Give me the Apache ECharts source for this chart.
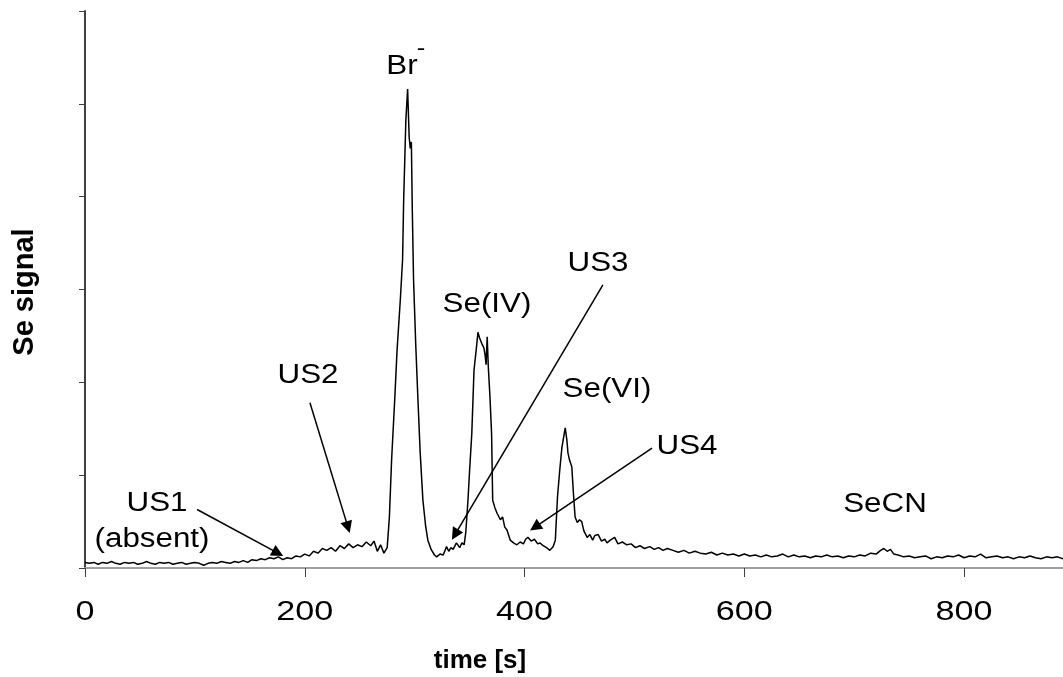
<!DOCTYPE html>
<html>
<head>
<meta charset="utf-8">
<title>Se signal</title>
<script src="https://cdn.jsdelivr.net/npm/echarts@6/dist/echarts.min.js"></script>
<style>
    html, body { margin: 0; padding: 0; background: #fff; }
    #chart { width: 1063px; height: 677px; }
</style>
</head>
<body>
<div id="chart"></div>
<script>
// 时间轴 (s)
let time = [
    0, 4, 8, 12, 16, 20, 24, 28, 32, 36, 40, 44, 48, 52, 56, 60, 64, 68, 72, 76,
    80, 84, 88, 92, 96, 100, 104, 108, 112, 116, 120, 124, 128, 132, 136, 140, 144, 148, 152, 156,
    160, 164, 168, 172, 176, 180, 184, 188, 192, 196, 200, 204, 208, 212, 216, 220, 224, 228, 232, 236,
    240, 244, 248, 252, 256, 260, 263, 266, 269, 272, 275, 277, 279, 282, 284, 287, 289, 290, 292, 293.6,
    295, 296, 297, 297.8, 299, 301, 303, 305, 307.5, 310, 312, 315, 318, 320, 323, 326, 329, 331, 333, 335,
    338, 341, 343, 345, 346.5, 348.5, 350, 352, 354, 356, 357.6, 359, 361, 363, 364, 365, 366, 367, 368.5, 370,
    371, 373, 375, 378, 380, 382, 384, 387, 390, 393, 396, 399, 401, 403, 406, 409, 412, 414, 417, 420,
    423, 426, 428, 430, 432, 434, 437, 438.5, 439.5, 441, 443, 444.5, 446, 448, 450, 452, 454, 455, 457, 459.5,
    462, 464, 467, 470, 473, 475, 478, 482, 485, 489, 493, 497, 501, 505, 509, 514, 518, 522, 526, 530,
    535, 540, 545, 550, 555, 560, 565, 570, 575, 580, 585, 590, 595, 600, 605, 610, 615, 620, 625, 630,
    635, 640, 645, 650, 655, 660, 665, 670, 675, 680, 685, 690, 695, 700, 705, 710, 715, 720, 724, 727,
    730, 733, 736, 740, 745, 750, 755, 760, 765, 770, 775, 780, 785, 790, 795, 800, 805, 810, 815, 820,
    825, 830, 835, 840, 845, 850, 855, 860, 865, 870, 875, 880, 885, 890
];
// Se 信号
let signal = [
    0.06, 0.05, 0.06, 0.04, 0.06, 0.05, 0.07, 0.05, 0.04, 0.06, 0.05, 0.06, 0.04, 0.05, 0.07, 0.05, 0.04, 0.06, 0.05, 0.06,
    0.04, 0.05, 0.06, 0.04, 0.05, 0.06, 0.05, 0.03, 0.05, 0.06, 0.05, 0.07, 0.06, 0.05, 0.07, 0.06, 0.08, 0.06, 0.09, 0.08,
    0.10, 0.09, 0.11, 0.10, 0.12, 0.09, 0.11, 0.10, 0.13, 0.12, 0.15, 0.13, 0.18, 0.16, 0.21, 0.19, 0.22, 0.18, 0.24, 0.21,
    0.26, 0.22, 0.25, 0.23, 0.28, 0.24, 0.29, 0.18, 0.25, 0.16, 0.22, 0.55, 1.16, 1.85, 2.35, 2.90, 3.32, 3.97, 4.83, 5.16,
    4.64, 4.52, 4.59, 3.89, 3.10, 2.40, 1.81, 1.25, 0.73, 0.45, 0.30, 0.20, 0.14, 0.12, 0.15, 0.14, 0.23, 0.18, 0.22, 0.20,
    0.27, 0.22, 0.27, 0.25, 0.38, 0.73, 1.05, 1.45, 2.13, 2.35, 2.54, 2.48, 2.42, 2.37, 2.30, 2.19, 2.49, 2.17, 1.85, 1.45,
    0.73, 0.65, 0.59, 0.52, 0.55, 0.44, 0.41, 0.30, 0.27, 0.25, 0.28, 0.26, 0.31, 0.33, 0.29, 0.31, 0.26, 0.27, 0.24, 0.22,
    0.19, 0.23, 0.30, 0.77, 1.05, 1.30, 1.51, 1.38, 1.24, 1.16, 1.09, 0.80, 0.55, 0.49, 0.52, 0.50, 0.40, 0.38, 0.33, 0.36,
    0.30, 0.35, 0.36, 0.29, 0.31, 0.27, 0.30, 0.33, 0.26, 0.28, 0.25, 0.26, 0.22, 0.24, 0.21, 0.23, 0.20, 0.22, 0.19, 0.21,
    0.19, 0.17, 0.19, 0.16, 0.18, 0.16, 0.15, 0.17, 0.14, 0.16, 0.14, 0.15, 0.13, 0.15, 0.13, 0.14, 0.12, 0.14, 0.12, 0.13,
    0.15, 0.12, 0.14, 0.12, 0.13, 0.11, 0.13, 0.12, 0.14, 0.12, 0.13, 0.11, 0.13, 0.12, 0.14, 0.13, 0.16, 0.15, 0.19, 0.21,
    0.18, 0.20, 0.15, 0.14, 0.12, 0.13, 0.11, 0.12, 0.13, 0.10, 0.12, 0.11, 0.13, 0.12, 0.14, 0.11, 0.13, 0.12, 0.15, 0.11,
    0.12, 0.13, 0.11, 0.12, 0.10, 0.12, 0.11, 0.13, 0.11, 0.10, 0.12, 0.11, 0.12, 0.10
];
// x 轴刻度标签
let xTicks = [0, 200, 400, 600, 800];
// 箭头标注 [起点, 终点]，数据坐标
let arrows = [
    [[102, 0.63], [175.6, 0.16]],   // US1
    [[204.7, 1.78], [239.3, 0.44]], // US2
    [[471.3, 3.05], [336.7, 0.36]], // US3
    [[516, 1.29], [409.5, 0.44]]    // US4
];
// 文字标注 [文本, 像素x, 像素y]
let notes = [
    ['Br', 402, 67],
    ['Se(IV)', 487, 305],
    ['US3', 598, 264],
    ['US2', 308, 376],
    ['Se(VI)', 607, 390],
    ['US4', 687, 447],
    ['US1', 157, 504],
    ['(absent)', 152, 540],
    ['SeCN', 885, 505]
];

let font = 'Liberation Sans, Arial, sans-serif';
let stretch = 1.16; // 原图文字横向略宽
let chart = echarts.init(document.getElementById('chart'));

// 文本元素
function textEl(text, x, y, size, opts) {
    return Object.assign({
        type: 'text',
        x: x,
        y: y,
        silent: true,
        style: { text: text, font: size + 'px ' + font, fill: '#000', textAlign: 'center', textVerticalAlign: 'middle' }
    }, opts || {});
}

let graphics = notes.map(n => textEl(n[0], n[1], n[2], 27, { scaleX: stretch }));
// Br 的上标
graphics.push(textEl('-', 421, 49, 22, { scaleX: stretch }));
// 坐标轴名称
graphics.push(textEl('time [s]', 480, 661, 26, {}));
graphics[graphics.length - 1].style.font = 'bold 26px ' + font;
graphics.push(textEl('Se signal', 25, 292, 29, { rotation: Math.PI / 2 }));
graphics[graphics.length - 1].style.font = 'bold 29px ' + font;

let option = {
    animation: false,
    backgroundColor: '#fff',
    grid: { left: 85, top: 11, right: 0, bottom: 109 },
    xAxis: [{
        type: 'value',
        min: 0,
        max: 890,
        interval: 200,
        splitLine: { show: false },
        axisLine: { onZero: false, lineStyle: { color: '#404040', width: 2 } },
        axisTick: { length: 9, lineStyle: { color: '#404040', width: 1 } },
        axisLabel: { show: false }
    }, {
        // 顶部边框
        type: 'value',
        position: 'top',
        min: 0,
        max: 890,
        axisLine: { lineStyle: { color: '#a0a0a0', width: 2 } },
        axisTick: { show: false },
        axisLabel: { show: false },
        splitLine: { show: false }
    }],
    yAxis: {
        type: 'value',
        min: 0,
        max: 6,
        interval: 1,
        splitLine: { show: false },
        axisLine: { show: true, lineStyle: { color: '#404040', width: 2 } },
        axisTick: { show: true, length: 6, lineStyle: { color: '#404040', width: 1 } },
        axisLabel: { show: false }
    },
    series: [{
        type: 'line',
        data: time.map((t, i) => [t, signal[i]]),
        showSymbol: false,
        symbol: 'none',
        lineStyle: { color: '#000', width: 1.5 },
        markLine: {
            silent: true,
            symbol: ['none', 'triangle'],
            symbolSize: 12,
            label: { show: false },
            lineStyle: { color: '#000', width: 1.5, type: 'solid' },
            data: arrows.map(a => [{ coord: a[0] }, { coord: a[1] }])
        }
    }]
};
chart.setOption(option);

// 刻度标签：位置由 x 轴换算，文字横向拉伸
xTicks.forEach(v => {
    let px = chart.convertToPixel({ xAxisIndex: 0 }, v);
    graphics.push(textEl(String(v), px, 612, 28, { scaleX: 1.22 }));
});
chart.setOption({ graphic: graphics });
</script>
</body>
</html>
